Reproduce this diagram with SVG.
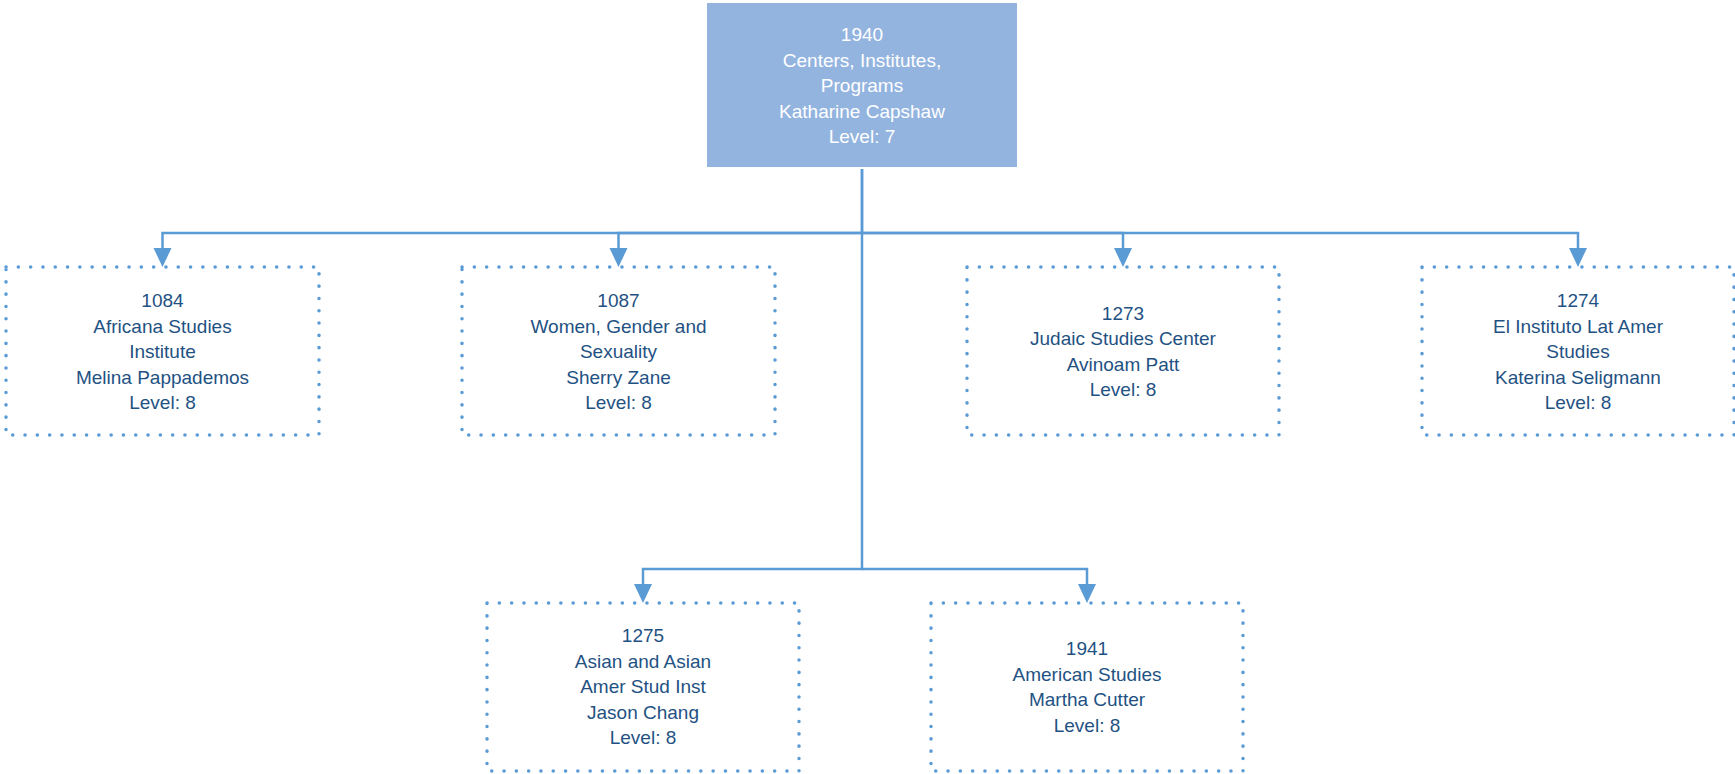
<svg xmlns="http://www.w3.org/2000/svg" width="1735" height="774" viewBox="0 0 1735 774">
<style>
.box{fill:#ffffff;stroke:#5B9BD5;stroke-width:3.5;stroke-linecap:round;stroke-dasharray:0.1 12.2}
.top{fill:#93B4DF}
.t{font-family:"Liberation Sans",Arial,sans-serif;font-size:19px;fill:#1F5283;text-anchor:middle}
.tw{fill:#ffffff}
.c{fill:none;stroke:#5B9BD5;stroke-width:2.5}
</style>
<defs>
<marker id="ah" markerUnits="userSpaceOnUse" markerWidth="20" markerHeight="19" viewBox="0 0 20 19" refX="1" refY="9" orient="auto">
<path d="M0,0 L19,9 L0,18 z" fill="#5B9BD5"/>
</marker>
</defs>
<rect width="1735" height="774" fill="#ffffff"/>
<g id="connectors">
<path class="c" d="M862,169 V233 H162.5 V249" marker-end="url(#ah)"/>
<path class="c" d="M862,233 H618.5 V249" marker-end="url(#ah)"/>
<path class="c" d="M862,233 H1123 V249" marker-end="url(#ah)"/>
<path class="c" d="M862,233 H1578 V249" marker-end="url(#ah)"/>
<path class="c" d="M862,169 V569 H643 V585" marker-end="url(#ah)"/>
<path class="c" d="M862,569 H1087 V585" marker-end="url(#ah)"/>
</g>
<g id="n1940">
<rect class="top" x="707" y="3" width="310" height="164"/>
<text class="t tw" x="862" y="41">1940</text>
<text class="t tw" x="862" y="66.5">Centers, Institutes,</text>
<text class="t tw" x="862" y="92">Programs</text>
<text class="t tw" x="862" y="117.5">Katharine Capshaw</text>
<text class="t tw" x="862" y="143">Level: 7</text>
</g>
<g id="n1084">
<rect class="box" x="6" y="267" width="313" height="168"/>
<text class="t" x="162.5" y="307">1084</text>
<text class="t" x="162.5" y="332.5">Africana Studies</text>
<text class="t" x="162.5" y="358">Institute</text>
<text class="t" x="162.5" y="383.5">Melina Pappademos</text>
<text class="t" x="162.5" y="409">Level: 8</text>
</g>
<g id="n1087">
<rect class="box" x="462" y="267" width="313" height="168"/>
<text class="t" x="618.5" y="307">1087</text>
<text class="t" x="618.5" y="332.5">Women, Gender and</text>
<text class="t" x="618.5" y="358">Sexuality</text>
<text class="t" x="618.5" y="383.5">Sherry Zane</text>
<text class="t" x="618.5" y="409">Level: 8</text>
</g>
<g id="n1273">
<rect class="box" x="967" y="267" width="312" height="168"/>
<text class="t" x="1123" y="319.5">1273</text>
<text class="t" x="1123" y="345">Judaic Studies Center</text>
<text class="t" x="1123" y="370.5">Avinoam Patt</text>
<text class="t" x="1123" y="396">Level: 8</text>
</g>
<g id="n1274">
<rect class="box" x="1422" y="267" width="312" height="168"/>
<text class="t" x="1578" y="307">1274</text>
<text class="t" x="1578" y="332.5">El Instituto Lat Amer</text>
<text class="t" x="1578" y="358">Studies</text>
<text class="t" x="1578" y="383.5">Katerina Seligmann</text>
<text class="t" x="1578" y="409">Level: 8</text>
</g>
<g id="n1275">
<rect class="box" x="487" y="603" width="312" height="168"/>
<text class="t" x="643" y="642">1275</text>
<text class="t" x="643" y="667.5">Asian and Asian</text>
<text class="t" x="643" y="693">Amer Stud Inst</text>
<text class="t" x="643" y="718.5">Jason Chang</text>
<text class="t" x="643" y="744">Level: 8</text>
</g>
<g id="n1941">
<rect class="box" x="931" y="603" width="312" height="168"/>
<text class="t" x="1087" y="655">1941</text>
<text class="t" x="1087" y="680.5">American Studies</text>
<text class="t" x="1087" y="706">Martha Cutter</text>
<text class="t" x="1087" y="731.5">Level: 8</text>
</g>
</svg>
